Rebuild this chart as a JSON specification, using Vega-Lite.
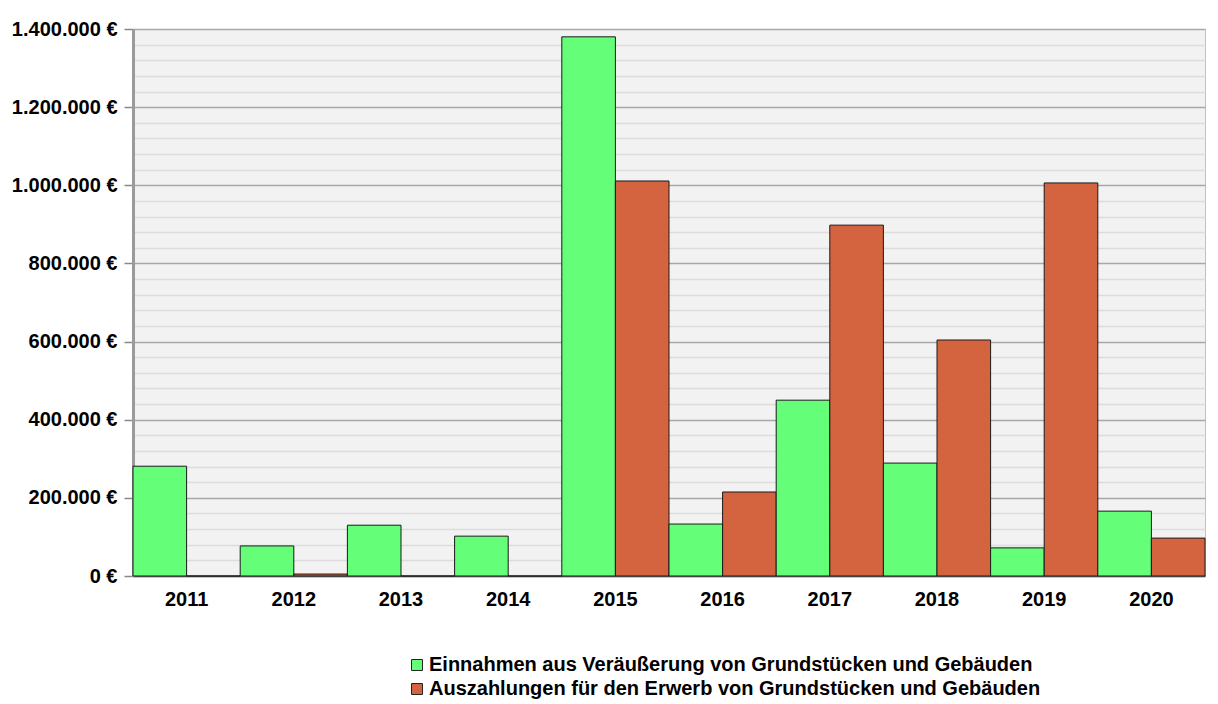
{
  "$schema": "https://vega.github.io/schema/vega-lite/v6.json",
  "autosize": "none",
  "width": 1072,
  "height": 547,
  "padding": {"left": 133, "top": 29, "right": 13, "bottom": 128},
  "background": "white",
  "data": {
    "values": [
      {"Jahr": "2011", "Reihe": "Einnahmen aus Veräußerung von Grundstücken und Gebäuden", "Wert": 281000},
      {"Jahr": "2011", "Reihe": "Auszahlungen für den Erwerb von Grundstücken und Gebäuden", "Wert": 0},
      {"Jahr": "2012", "Reihe": "Einnahmen aus Veräußerung von Grundstücken und Gebäuden", "Wert": 77000},
      {"Jahr": "2012", "Reihe": "Auszahlungen für den Erwerb von Grundstücken und Gebäuden", "Wert": 5000},
      {"Jahr": "2013", "Reihe": "Einnahmen aus Veräußerung von Grundstücken und Gebäuden", "Wert": 130000},
      {"Jahr": "2013", "Reihe": "Auszahlungen für den Erwerb von Grundstücken und Gebäuden", "Wert": 0},
      {"Jahr": "2014", "Reihe": "Einnahmen aus Veräußerung von Grundstücken und Gebäuden", "Wert": 102000},
      {"Jahr": "2014", "Reihe": "Auszahlungen für den Erwerb von Grundstücken und Gebäuden", "Wert": 0},
      {"Jahr": "2015", "Reihe": "Einnahmen aus Veräußerung von Grundstücken und Gebäuden", "Wert": 1380000},
      {"Jahr": "2015", "Reihe": "Auszahlungen für den Erwerb von Grundstücken und Gebäuden", "Wert": 1011000},
      {"Jahr": "2016", "Reihe": "Einnahmen aus Veräußerung von Grundstücken und Gebäuden", "Wert": 133000},
      {"Jahr": "2016", "Reihe": "Auszahlungen für den Erwerb von Grundstücken und Gebäuden", "Wert": 215000},
      {"Jahr": "2017", "Reihe": "Einnahmen aus Veräußerung von Grundstücken und Gebäuden", "Wert": 450000},
      {"Jahr": "2017", "Reihe": "Auszahlungen für den Erwerb von Grundstücken und Gebäuden", "Wert": 898000},
      {"Jahr": "2018", "Reihe": "Einnahmen aus Veräußerung von Grundstücken und Gebäuden", "Wert": 289000},
      {"Jahr": "2018", "Reihe": "Auszahlungen für den Erwerb von Grundstücken und Gebäuden", "Wert": 604000},
      {"Jahr": "2019", "Reihe": "Einnahmen aus Veräußerung von Grundstücken und Gebäuden", "Wert": 72000},
      {"Jahr": "2019", "Reihe": "Auszahlungen für den Erwerb von Grundstücken und Gebäuden", "Wert": 1006000},
      {"Jahr": "2020", "Reihe": "Einnahmen aus Veräußerung von Grundstücken und Gebäuden", "Wert": 166000},
      {"Jahr": "2020", "Reihe": "Auszahlungen für den Erwerb von Grundstücken und Gebäuden", "Wert": 97000}
    ]
  },
  "mark": {"type": "bar", "stroke": "#1a1a1a", "strokeWidth": 1, "opacity": 1},
  "encoding": {
    "x": {
      "field": "Jahr", "type": "nominal", "title": null,
      "scale": {"paddingInner": 0, "paddingOuter": 0},
      "axis": {
        "labelAngle": 0, "labelFont": "Liberation Sans", "labelFontWeight": "bold",
        "labelFontSize": 20, "labelColor": "#000", "labelPadding": 13,
        "ticks": false, "domainColor": "#666", "domainWidth": 1.5
      }
    },
    "xOffset": {
      "field": "Reihe", "type": "nominal",
      "sort": ["Einnahmen aus Veräußerung von Grundstücken und Gebäuden", "Auszahlungen für den Erwerb von Grundstücken und Gebäuden"]
    },
    "y": {
      "field": "Wert", "type": "quantitative", "title": null,
      "scale": {"domain": [0, 1400000], "nice": false},
      "axis": {
        "values": [0, 40000, 80000, 120000, 160000, 200000, 240000, 280000, 320000, 360000, 400000, 440000, 480000, 520000, 560000, 600000, 640000, 680000, 720000, 760000, 800000, 840000, 880000, 920000, 960000, 1000000, 1040000, 1080000, 1120000, 1160000, 1200000, 1240000, 1280000, 1320000, 1360000, 1400000],
        "labelExpr": "datum.value % 200000 === 0 ? replace(format(datum.value, ',d'), regexp(',', 'g'), '.') + ' €' : ''",
        "labelFont": "Liberation Sans", "labelFontWeight": "bold", "labelFontSize": 20,
        "labelColor": "#000", "labelPadding": 7,
        "tickSize": 9, "tickColor": "#888", "tickWidth": 1.5,
        "tickOpacity": {"condition": {"test": "datum.value % 200000 === 0", "value": 1}, "value": 0},
        "gridColor": {"condition": {"test": "datum.value % 200000 === 0", "value": "#a8a8a8"}, "value": "#dcdcdc"},
        "gridWidth": 1.5,
        "domainColor": "#9a9a9a", "domainWidth": 3
      }
    },
    "color": {
      "field": "Reihe", "type": "nominal", "title": null,
      "sort": ["Einnahmen aus Veräußerung von Grundstücken und Gebäuden", "Auszahlungen für den Erwerb von Grundstücken und Gebäuden"],
      "scale": {"range": ["#64fe78", "#d4643f"]},
      "legend": {
        "orient": "none", "legendX": 274, "legendY": 626, "direction": "vertical",
        "symbolType": "square", "symbolSize": 120, "symbolStrokeColor": "#222", "symbolStrokeWidth": 1,
        "symbolOpacity": 1,
        "labelFont": "Liberation Sans", "labelFontWeight": "bold", "labelFontSize": 20,
        "labelColor": "#000", "labelLimit": 800, "labelOffset": 2, "rowPadding": 4
      }
    }
  },
  "config": {
    "view": {"fill": "#f2f2f2", "stroke": "#c0c0c0", "strokeWidth": 1}
  }
}
